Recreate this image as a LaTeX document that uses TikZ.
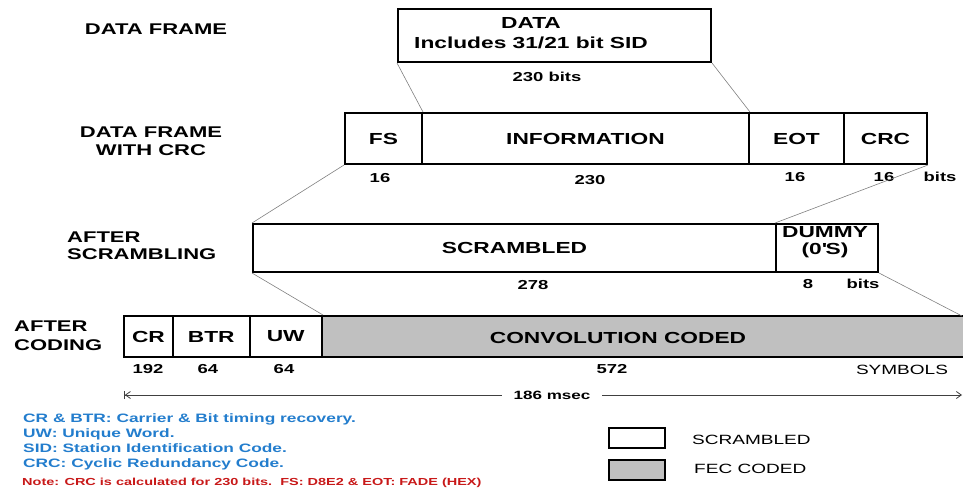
\documentclass[tikz,border=0pt]{standalone}
\usepackage{fontspec}
\setmainfont{Liberation Sans}[FakeStretch=1.42]
\usetikzlibrary{arrows.meta}
\definecolor{legblue}{RGB}{35,125,205}
\definecolor{notered}{RGB}{200,25,25}
\definecolor{fecgray}{RGB}{192,192,192}
\newcommand{\fsz}[2]{\fontsize{#1}{#2}\selectfont}
\begin{document}
\begin{tikzpicture}[x=1pt,y=-1pt,
  cell/.style={draw=black, line width=2pt, inner sep=0pt, font=\bfseries\fsz{16}{18}},
  fec/.style={cell, fill=fecgray},
  lab/.style={font=\bfseries\fsz{16}{20}, inner sep=0pt, align=center},
  rowlab/.style={font=\bfseries\fsz{15.5}{18}, inner sep=0pt},
  num/.style={font=\bfseries\fsz{13}{15}, inner sep=0pt},
  plainlab/.style={font=\fsz{13.4}{15}, inner sep=0pt},
  link/.style={draw=gray, line width=0.6pt},
  dim/.style={draw=black!75, line width=0.8pt},
]
\useasboundingbox (0,0) rectangle (963,491);

% row labels
\node[rowlab] (l1) at (156,29) {DATA FRAME};
\node[rowlab, align=center] (l2) at (151,141.5) {DATA FRAME\\WITH CRC};
\node[rowlab, align=left, anchor=west, font=\bfseries\fsz{15.5}{17}] (l3) at (67,245.5) {AFTER\\SCRAMBLING};
\node[rowlab, align=left, anchor=west, font=\bfseries\fsz{15.5}{19}] (l4) at (14,335.5) {AFTER\\CODING};

% row 1
\node[cell, minimum width=313pt, minimum height=53pt] (data) at (554.5,35.5) {};
\node[lab] (datatxt) at (531,33) {DATA\\Includes 31/21 bit SID};
\node[num] (n230b) at (547,77) {230 bits};

% row 2
\node[cell, minimum width=77pt, minimum height=51pt] (fs) at (383.5,138.5) {FS};
\node[cell, minimum width=327pt, minimum height=51pt] (info) at (585.5,138.5) {INFORMATION};
\node[cell, minimum width=95pt, minimum height=51pt] (eot) at (796.5,138.5) {EOT};
\node[cell, minimum width=83pt, minimum height=51pt] (crc) at (885.5,138.5) {CRC};
\node[num] (n16a) at (380,178) {16};
\node[num] (n230) at (590,180) {230};
\node[num] (n16b) at (795,177) {16};
\node[num] (n16c) at (884,177) {16};
\node[num] (bits1) at (940,177) {bits};

% row 3
\node[cell, minimum width=523pt, minimum height=48pt] (scr) at (514.5,248) {SCRAMBLED};
\node[cell, minimum width=102pt, minimum height=48pt] (dummy) at (827,248) {};
\node[lab, font=\bfseries\fsz{16}{16.5}] (dummytxt) at (825,242) {DUMMY\\(0\textquotesingle S)};
\node[num] (n278) at (533,285) {278};
\node[num] (n8) at (808,284) {8};
\node[num] (bits2) at (863,284) {bits};

% row 4
\node[cell, minimum width=49pt, minimum height=41pt] (cr) at (148.5,336.5) {CR};
\node[cell, minimum width=76.5pt, minimum height=41pt] (btr) at (211.25,336.5) {BTR};
\node[cell, minimum width=72.5pt, minimum height=41pt] (uw) at (285.75,336.5) {UW};
\node[fec, minimum width=643pt, minimum height=41pt] (conv) at (643.5,336.5) {};
\node[lab] (convtxt) at (618,338) {CONVOLUTION CODED};
\node[num] (n192) at (148,369) {192};
\node[num] (n64a) at (208,369) {64};
\node[num] (n64b) at (284,369) {64};
\node[num] (n572) at (612,369) {572};
\node[plainlab] (sym) at (902,370) {SYMBOLS};

% connectors
\draw[link] (data.south west) -- (fs.north east);
\draw[link] (data.south east) -- (info.north east);
\draw[link] (fs.south west) -- (scr.north west);
\draw[link] (crc.south east) -- (dummy.north west);
\draw[link] (scr.south west) -- (uw.north east);
\draw[link] (dummy.south east) -- (962,316);

% duration
\coordinate (dl) at (124,395);
\coordinate (dr) at (962,395);
\draw[dim, {Bar[width=8pt]Straight Barb[length=5pt,width=7pt]}-{Straight Barb[length=5pt,width=7pt]}] (dl) -- (dr);
\node[num, font=\bfseries\fsz{12}{14}, fill=white, inner xsep=12pt, inner ysep=2pt] (dur) at (552,395) {186 msec};

% notes
\node[anchor=west, align=left, inner sep=0pt, text=legblue, font=\bfseries\fsz{12.2}{15}] (notes) at (23,441.5)
  {CR \& BTR: Carrier \& Bit timing recovery.\\UW: Unique Word.\\SID: Station Identification Code.\\CRC: Cyclic Redundancy Code.};
\node[anchor=west, inner sep=0pt, text=notered, font=\bfseries\fsz{10.2}{12}] (note) at (22,483)
  {Note: CRC is calculated for 230 bits.\ \ FS: D8E2 \& EOT: FADE (HEX)};

% legend
\node[cell, minimum width=56pt, minimum height=20pt] (legs) at (637,438) {};
\node[fec, minimum width=56pt, minimum height=20pt] (legf) at (637,470) {};
\node[plainlab, anchor=west] (legstxt) at (692,440) {SCRAMBLED};
\node[plainlab, anchor=west] (legftxt) at (694,469) {FEC CODED};
\end{tikzpicture}
\end{document}
